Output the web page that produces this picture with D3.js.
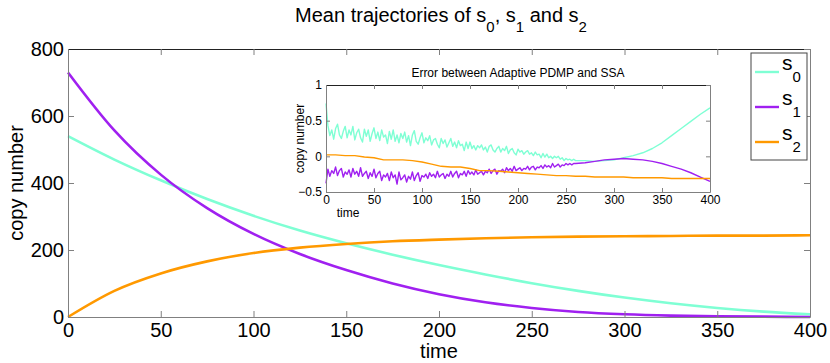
<!DOCTYPE html>
<html>
<head>
<meta charset="utf-8">
<script src="https://cdn.jsdelivr.net/npm/d3@7"></script>
<style>
  body { margin: 0; background: #fff; }
  svg { display: block; font-family: "Liberation Sans", Arial, sans-serif; }
</style>
</head>
<body>
<svg id="chart" width="830" height="363"></svg>
<script>
// main panel: mean trajectories
const time = [0, 25, 50, 75, 100, 125, 150, 175, 200, 225, 250, 275, 300, 325, 350, 375, 400];
const s0 = [540, 470, 408, 352, 302, 258, 220, 186, 155, 127, 101, 78, 58, 41, 27, 16, 8];
const s1 = [730, 557, 425, 325, 248, 188, 140, 100, 68, 44, 27, 15, 8, 4, 2, 1, 0];
const s2 = [0, 78, 130, 166, 191, 207, 218, 226, 231, 235, 238, 240, 241, 242, 243, 243, 244];
const xTicks = [0, 50, 100, 150, 200, 250, 300, 350, 400];
const yTicks = [0, 200, 400, 600, 800];

// inset: error between Adaptive PDMP and SSA
const errTime = [0, 2, 4, 6, 8, 10, 12, 14, 16, 18, 20, 22, 24, 26, 28, 30, 32, 34, 36, 38, 40,
  42, 44, 46, 48, 50, 52, 54, 56, 58, 60, 62, 64, 66, 68, 70, 72, 74, 76, 78, 80,
  82, 84, 86, 88, 90, 92, 94, 96, 98, 100, 102, 104, 106, 108, 110, 112, 114, 116, 118, 120,
  122, 124, 126, 128, 130, 132, 134, 136, 138, 140, 142, 144, 146, 148, 150, 152, 154, 156, 158, 160,
  162, 164, 166, 168, 170, 172, 174, 176, 178, 180, 182, 184, 186, 188, 190, 192, 194, 196, 198, 200,
  202, 204, 206, 208, 210, 212, 214, 216, 218, 220, 222, 224, 226, 228, 230, 232, 234, 236, 238, 240,
  242, 244, 246, 248, 250, 252, 254, 256, 258, 260,
  270, 280, 290, 300, 310, 320, 330, 340, 350, 360, 370, 380, 390, 400];
const err0 = [0.74,
  0.43, 0.29, 0.37, 0.24, 0.39, 0.45, 0.30, 0.25, 0.35, 0.42,
  0.26, 0.37, 0.30, 0.42, 0.23, 0.33, 0.38, 0.26, 0.20, 0.38,
  0.28, 0.37, 0.21, 0.32, 0.40,
  0.25, 0.34, 0.22, 0.37, 0.27, 0.30, 0.18, 0.35, 0.24, 0.37,
  0.21, 0.30, 0.19, 0.32, 0.25, 0.34, 0.20, 0.29, 0.15, 0.30,
  0.36, 0.21, 0.17, 0.26, 0.33,
  0.19, 0.26, 0.22, 0.29, 0.16, 0.23, 0.25, 0.17, 0.12, 0.25,
  0.18, 0.23, 0.13, 0.19, 0.25, 0.14, 0.20, 0.12, 0.22, 0.15,
  0.17, 0.08, 0.20, 0.11, 0.20,
  0.11, 0.15, 0.09, 0.15, 0.12, 0.16, 0.09, 0.13, 0.06, 0.14,
  0.16, 0.09, 0.06, 0.11, 0.14, 0.06, 0.11, 0.08, 0.14, 0.04,
  0.09, 0.11, 0.05, 0.02, 0.10,
  0.06, 0.08, 0.03, 0.06, 0.08, 0.03, 0.05, 0.01, 0.06, 0.02,
  0.03, -0.02, 0.04, -0.01, 0.03, -0.02, 0.00, -0.03, 0.00, -0.02,
  0.00, -0.04, -0.02, -0.06, -0.03, -0.05, -0.04, -0.06, -0.04, -0.06,
  -0.06, -0.07, -0.06, -0.05, -0.02, 0.01, 0.05, 0.11, 0.19, 0.29, 0.39, 0.49, 0.59, 0.68];
const err1 = [-0.38,
  -0.18, -0.28, -0.20, -0.24, -0.15, -0.27, -0.20, -0.17, -0.29, -0.22,
  -0.25, -0.19, -0.29, -0.17, -0.25, -0.21, -0.28, -0.16, -0.28, -0.24,
  -0.21, -0.31, -0.23, -0.28, -0.18,
  -0.30, -0.24, -0.21, -0.34, -0.26, -0.29, -0.24, -0.34, -0.22, -0.30,
  -0.26, -0.39, -0.22, -0.33, -0.30, -0.26, -0.36, -0.28, -0.32, -0.22,
  -0.34, -0.27, -0.23, -0.35, -0.27,
  -0.29, -0.25, -0.31, -0.23, -0.28, -0.25, -0.30, -0.21, -0.29, -0.26,
  -0.24, -0.31, -0.25, -0.28, -0.21, -0.29, -0.24, -0.21, -0.30, -0.24,
  -0.26, -0.21, -0.28, -0.20, -0.25,
  -0.22, -0.26, -0.19, -0.25, -0.23, -0.21, -0.26, -0.21, -0.23, -0.18,
  -0.24, -0.20, -0.18, -0.25, -0.20, -0.21, -0.18, -0.23, -0.16, -0.20,
  -0.17, -0.21, -0.14, -0.20, -0.18,
  -0.16, -0.20, -0.17, -0.18, -0.14, -0.19, -0.15, -0.14, -0.19, -0.15,
  -0.16, -0.13, -0.17, -0.12, -0.15, -0.13, -0.16, -0.10, -0.15, -0.13,
  -0.11, -0.15, -0.12, -0.13, -0.10, -0.12, -0.10, -0.12, -0.10, -0.10,
  -0.09, -0.07, -0.05, -0.04, -0.03, -0.04, -0.05, -0.07, -0.10, -0.14, -0.18, -0.23, -0.29, -0.35];
const errTime2 = [0, 10, 20, 30, 40, 50, 60, 70, 80, 90, 100, 110, 120, 130, 140, 150, 160, 170, 180, 190, 200,
  210, 220, 230, 240, 250, 260, 270, 280, 290, 300, 310, 320, 330, 340, 350, 360, 370, 380, 390, 400];
const err2 = [0.02, 0.02, 0.01, 0.01, -0.01, -0.02, -0.05, -0.05, -0.05, -0.06, -0.08,
  -0.11, -0.14, -0.15, -0.15, -0.17, -0.20, -0.20, -0.21, -0.22, -0.23,
  -0.24, -0.25, -0.26, -0.27, -0.27, -0.28, -0.28, -0.29, -0.29, -0.29,
  -0.29, -0.30, -0.30, -0.30, -0.30, -0.31, -0.31, -0.31, -0.31, -0.31];
const errYTicks = [-0.5, 0, 0.5, 1];

const colors = { s0: "#7fffd4", s1: "#a020f0", s2: "#ff9900" };
const axisGrey = "#808080";
const font = "'Liberation Sans', Arial, sans-serif";

const svg = d3.select("#chart");

const x = d3.scaleLinear().domain([0, 400]).range([68, 810]);
const y = d3.scaleLinear().domain([0, 800]).range([317, 49]);

const styleAxis = (size) => g => {
  g.attr("font-family", font).attr("font-size", size);
  g.select(".domain").attr("stroke", axisGrey);
  g.selectAll(".tick line").attr("stroke", axisGrey);
  g.selectAll(".tick text").attr("fill", "#000");
};

// text with subscripted digits: parts = [[text, sub], ...]
const subText = (sel, parts, size, subSize, shift) => {
  let back = 0;
  parts.forEach(([t, s]) => {
    sel.append("tspan").attr("font-size", size).attr("dy", back).text(t);
    back = 0;
    if (s !== undefined) {
      sel.append("tspan").attr("font-size", subSize).attr("dy", shift).text(s);
      back = -shift;
    }
  });
};

// ---- main panel ----
svg.append("rect")
  .attr("x", x(0)).attr("y", y(800))
  .attr("width", x(400) - x(0)).attr("height", y(0) - y(800))
  .attr("fill", "#fff");

const line = (xs, ys) => d3.line()
  .x((d, i) => xs(time[i]))
  .y(d => ys(d))
  .curve(d3.curveMonotoneX);

[[s0, colors.s0], [s1, colors.s1], [s2, colors.s2]].forEach(([vals, c]) => {
  svg.append("path")
    .datum(vals)
    .attr("fill", "none")
    .attr("stroke", c)
    .attr("stroke-width", 2.6)
    .attr("d", line(x, y));
});

svg.append("g")
  .attr("transform", `translate(0,${y(0)})`)
  .call(d3.axisBottom(x).tickValues(xTicks).tickSize(-6).tickSizeOuter(0).tickPadding(6))
  .call(styleAxis(20));

svg.append("g")
  .attr("transform", `translate(${x(0)},0)`)
  .call(d3.axisLeft(y).tickValues(yTicks).tickSize(-6).tickSizeOuter(0).tickPadding(4))
  .call(styleAxis(20));

svg.append("g")
  .attr("transform", `translate(0,${y(800)})`)
  .call(d3.axisTop(x).tickValues(xTicks).tickSize(-6).tickSizeOuter(0).tickFormat(""))
  .call(styleAxis(20))
  .call(g => g.select(".domain").attr("stroke", "#222"));

svg.append("g")
  .attr("transform", `translate(${x(400)},0)`)
  .call(d3.axisRight(y).tickValues(yTicks).tickSize(-6).tickSizeOuter(0).tickFormat(""))
  .call(styleAxis(20));

svg.append("text")
  .attr("x", (x(0) + x(400)) / 2).attr("y", 358)
  .attr("text-anchor", "middle")
  .attr("font-size", 20)
  .text("time");

svg.append("text")
  .attr("transform", `translate(23,${(y(0) + y(800)) / 2}) rotate(-90)`)
  .attr("text-anchor", "middle")
  .attr("font-size", 20)
  .text("copy number");

svg.append("text")
  .attr("x", 441).attr("y", 22)
  .attr("text-anchor", "middle")
  .call(subText, [["Mean trajectories of s", "0"], [", s", "1"], [" and s", "2"]], 20, 15, 10);

// ---- legend ----
const legend = svg.append("g");
legend.append("rect")
  .attr("x", 751).attr("y", 53).attr("width", 56).attr("height", 107)
  .attr("fill", "#fff").attr("stroke", "#444").attr("stroke-width", 1);

[["0", colors.s0], ["1", colors.s1], ["2", colors.s2]].forEach(([k, c], i) => {
  const ly = 72 + i * 35;
  legend.append("line")
    .attr("x1", 755).attr("x2", 779).attr("y1", ly).attr("y2", ly)
    .attr("stroke", c).attr("stroke-width", 2.4);
  legend.append("text")
    .attr("x", 782).attr("y", ly - 2)
    .call(subText, [["s", k]], 21, 15, 12);
});

// ---- inset ----
const ix = d3.scaleLinear().domain([0, 400]).range([326, 710]);
const iy = d3.scaleLinear().domain([-0.5, 1]).range([192, 85]);

const inset = svg.append("g");
inset.append("rect")
  .attr("x", ix(0)).attr("y", iy(1))
  .attr("width", ix(400) - ix(0)).attr("height", iy(-0.5) - iy(1))
  .attr("fill", "#fff");

const errLine = (ts) => d3.line()
  .x((d, i) => ix(ts[i]))
  .y(d => iy(d));

[[err0, errTime, colors.s0], [err1, errTime, colors.s1], [err2, errTime2, colors.s2]].forEach(([vals, ts, c]) => {
  inset.append("path")
    .datum(vals)
    .attr("fill", "none")
    .attr("stroke", c)
    .attr("stroke-width", 1.4)
    .attr("stroke-linejoin", "round")
    .attr("d", errLine(ts));
});

inset.append("g")
  .attr("transform", `translate(0,${iy(-0.5)})`)
  .call(d3.axisBottom(ix).tickValues(xTicks).tickSize(-4).tickSizeOuter(0).tickPadding(3))
  .call(styleAxis(12));

inset.append("g")
  .attr("transform", `translate(${ix(0)},0)`)
  .call(d3.axisLeft(iy).tickValues(errYTicks).tickSize(-4).tickSizeOuter(0).tickPadding(4)
    .tickFormat(d3.format("")))
  .call(styleAxis(12));

inset.append("g")
  .attr("transform", `translate(0,${iy(1)})`)
  .call(d3.axisTop(ix).tickValues(xTicks).tickSize(-4).tickSizeOuter(0).tickFormat(""))
  .call(styleAxis(12))
  .call(g => g.select(".domain").attr("stroke", "#222"));

inset.append("g")
  .attr("transform", `translate(${ix(400)},0)`)
  .call(d3.axisRight(iy).tickValues(errYTicks).tickSize(-4).tickSizeOuter(0).tickFormat(""))
  .call(styleAxis(12));

inset.append("text")
  .attr("x", (ix(0) + ix(400)) / 2).attr("y", 77)
  .attr("text-anchor", "middle")
  .attr("font-size", 12)
  .text("Error between Adaptive PDMP and SSA");

inset.append("text")
  .attr("x", 348).attr("y", 217)
  .attr("text-anchor", "middle")
  .attr("font-size", 12)
  .text("time");

inset.append("text")
  .attr("transform", `translate(304,${(iy(-0.5) + iy(1)) / 2}) rotate(-90)`)
  .attr("text-anchor", "middle")
  .attr("font-size", 12)
  .text("copy number");
</script>
</body>
</html>
